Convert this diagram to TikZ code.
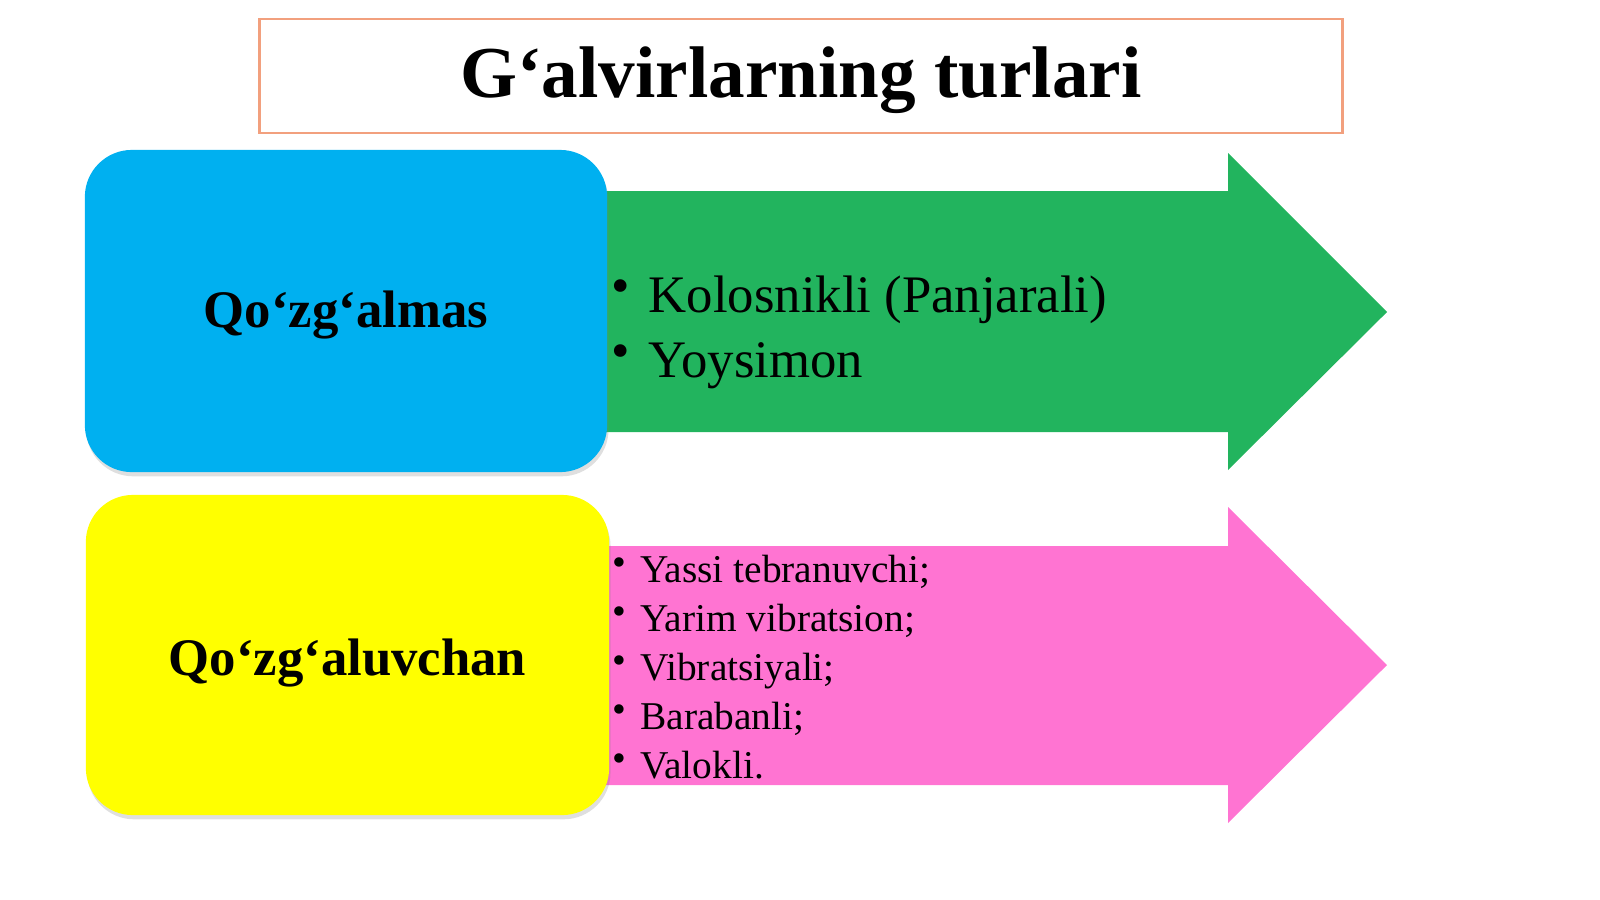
\documentclass[tikz,border=0pt]{standalone}
\usepackage{fontspec}
\setmainfont{Liberation Serif}
\usepackage{tikz}
\usetikzlibrary{shadows}
\definecolor{skyblue}{HTML}{00B0F0}
\definecolor{leafgreen}{HTML}{22B45E}
\definecolor{rosepink}{HTML}{FF74D2}
\definecolor{lemon}{HTML}{FFFF00}
\definecolor{salmonline}{HTML}{F2A07E}
\tikzstyle{titlebox} = [rectangle, draw=salmonline, line width=0.7pt, fill=white, minimum width=10.82cm, minimum height=1.14cm, text centered, text height=17.1pt, text depth=4.6pt, font=\bfseries\fontsize{20.8}{24}\selectfont]
\tikzstyle{catbox} = [rectangle, rounded corners=0.47cm, minimum width=5.22cm, minimum height=3.22cm, text centered, text height=12.9pt, text depth=3.3pt, font=\bfseries\fontsize{15}{18}\selectfont, drop shadow={shadow xshift=0.4pt, shadow yshift=-1.2pt, opacity=0.25}]
\tikzstyle{bigitem} = [anchor=base west, inner sep=0pt, font=\fontsize{15}{18}\selectfont]
\tikzstyle{smallitem} = [anchor=base west, inner sep=0pt, font=\fontsize{11.2}{13.4}\selectfont]
\newcommand{\bul}{\makebox[0.7em][l]{\raisebox{0.16em}{\textbullet}}}

\begin{document}
\begin{tikzpicture}[x=0.01cm, y=-0.01cm]
	\useasboundingbox (0,0) rectangle (1600,899);
	% arrows behind the boxes
	\fill[leafgreen] (560,191) -- (1228,191) -- (1228,153) -- (1387,312) -- (1228,470) -- (1228,432) -- (560,432) -- cycle;
	\fill[rosepink] (560,546) -- (1228,546) -- (1228,507) -- (1387,665) -- (1228,823) -- (1228,785) -- (560,785) -- cycle;
	
	\node(title) [titlebox] at (801,76) {G‘alvirlarning turlari};
	\node(fixed) [catbox, fill=skyblue] at (346,311) {Qo‘zg‘almas};
	\node(moving) [catbox, fill=lemon, minimum width=5.23cm, minimum height=3.2cm, text height=14.7pt] at (347.5,655) {Qo‘zg‘aluvchan};
	
	\node(kolos) [bigitem] at (611,312) {\bul Kolosnikli (Panjarali)};
	\node(yoys) [bigitem] at (611,377) {\bul Yoysimon};
	
	\node(yassi) [smallitem] at (612,582) {\bul Yassi tebranuvchi;};
	\node(yarim) [smallitem] at (612,631) {\bul Yarim vibratsion;};
	\node(vibr) [smallitem] at (612,680) {\bul Vibratsiyali;};
	\node(baraban) [smallitem] at (612,729) {\bul Barabanli;};
	\node(valok) [smallitem] at (612,778) {\bul Valokli.};
\end{tikzpicture}
\end{document}
